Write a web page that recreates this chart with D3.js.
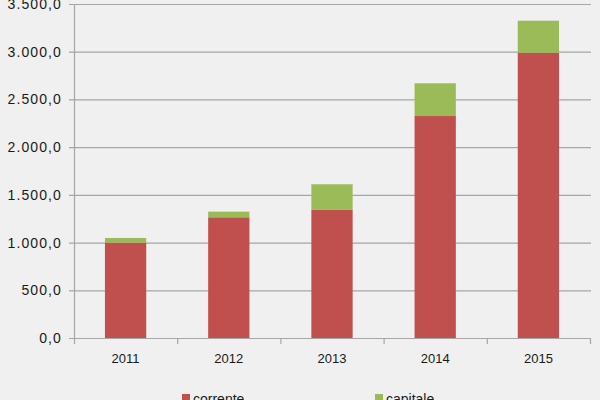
<!DOCTYPE html>
<html>
<head>
<meta charset="utf-8">
<script src="https://cdn.jsdelivr.net/npm/d3@7"></script>
<style>
	body { margin: 0; background: #f0f0f0; }
	text { font-family: "Liberation Sans", Arial, sans-serif; fill: #1a1a1a; }
</style>
</head>
<body>
<svg id="chart" width="600" height="400"></svg>
<script>
'use strict';

var years = ["2011", "2012", "2013", "2014", "2015"];
var corrente = [1000, 1265, 1342, 2326, 2990];
var capitale = [48, 59, 269, 343, 335];
var yTicks = [0, 500, 1000, 1500, 2000, 2500, 3000, 3500];
var seriesNames = ["corrente", "capitale"];
var seriesColors = ["#c0504d", "#9bbb59"];

var margin = {top: 4, right: 10, bottom: 62, left: 74};
var w = 600, h = 400;

var svg = d3.select("#chart");
svg.append("rect").attr("width", w).attr("height", h).attr("fill", "#f0f0f0");

var x = d3.scaleBand().domain(years).range([margin.left, 590]).paddingInner(0.6).paddingOuter(0.3);
var y = d3.scaleLinear().domain([0, 3500]).range([338, margin.top]);

// Formato italiano: 3.500,0
var itLocale = d3.formatLocale({decimal: ",", thousands: ".", grouping: [3], currency: ["€", ""]});
var fmt = itLocale.format(",.1f");

// Griglia orizzontale (con tacche a sinistra).
svg.append("g").selectAll("line").data(yTicks.slice(1))
		.enter().append("line")
		.attr("x1", margin.left - 5)
		.attr("x2", 591)
		.attr("y1", function(d) { return y(d) + 0.5; })
		.attr("y2", function(d) { return y(d) + 0.5; })
		.attr("stroke", "#a6a6a6")
		.attr("stroke-width", 1.2);

// Etichette asse Y.
svg.append("g").selectAll("text").data(yTicks)
		.enter().append("text")
		.attr("x", 62)
		.attr("y", function(d) { return y(d); })
		.attr("dy", "0.36em")
		.attr("text-anchor", "end")
		.attr("font-size", 14)
		.attr("letter-spacing", "1.1px")
		.text(function(d) { return fmt(d); });

// Barre impilate.
var stackData = years.map(function(yr, i) { return {year: yr, corrente: corrente[i], capitale: capitale[i]}; });
var stack = d3.stack().keys(seriesNames)(stackData);

svg.append("g").selectAll("g").data(stack)
		.enter().append("g")
		.attr("fill", function(d, i) { return seriesColors[i]; })
		.selectAll("rect").data(function(d) { return d; })
		.enter().append("rect")
		.attr("x", function(d) { return x(d.data.year); })
		.attr("width", x.bandwidth())
		.attr("y", function(d) { return y(d[1]); })
		.attr("height", function(d) { return y(d[0]) - y(d[1]); });

// Asse Y.
svg.append("line")
		.attr("x1", margin.left + 0.5).attr("x2", margin.left + 0.5)
		.attr("y1", y(3500)).attr("y2", 338)
		.attr("stroke", "#a6a6a6").attr("stroke-width", 1.2);

// Asse X con tacche tra le categorie.
var xTickPos = d3.range(years.length + 1).map(function(i) { return margin.left + i * (590 - margin.left) / years.length; });
svg.append("line")
		.attr("x1", margin.left - 5).attr("x2", 591)
		.attr("y1", 338.5).attr("y2", 338.5)
		.attr("stroke", "#a6a6a6").attr("stroke-width", 1.2);
svg.append("g").selectAll("line").data(xTickPos)
		.enter().append("line")
		.attr("x1", function(d) { return d + 0.5; })
		.attr("x2", function(d) { return d + 0.5; })
		.attr("y1", 338).attr("y2", 344)
		.attr("stroke", "#a6a6a6").attr("stroke-width", 1.2);

svg.append("g").selectAll("text").data(years)
		.enter().append("text")
		.attr("x", function(d) { return x(d) + x.bandwidth() / 2; })
		.attr("y", 363)
		.attr("text-anchor", "middle")
		.attr("font-size", 13)
		.text(function(d) { return d; });

// Legenda (tagliata in basso).
var legendX = [182, 375];
var legend = svg.append("g").selectAll("g").data(seriesNames)
		.enter().append("g")
		.attr("transform", function(d, i) { return "translate(" + legendX[i] + ",394)"; });
legend.append("rect")
		.attr("width", 8).attr("height", 8)
		.attr("fill", function(d, i) { return seriesColors[i]; });
legend.append("text")
		.attr("x", 11)
		.attr("y", 10)
		.attr("font-size", 14)
		.text(function(d) { return d; });
</script>
</body>
</html>
